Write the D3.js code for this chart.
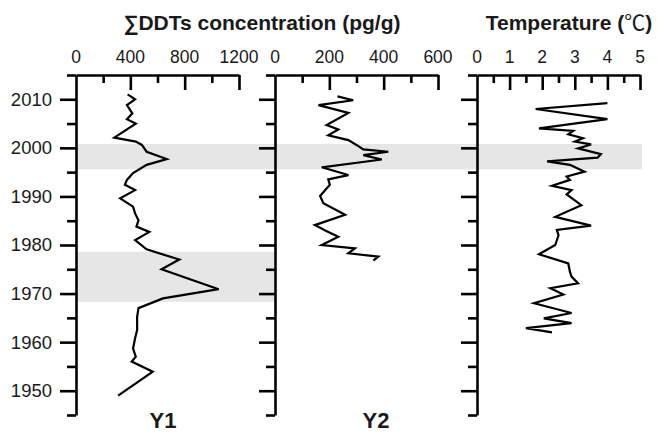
<!DOCTYPE html>
<html>
<head>
<meta charset="utf-8">
<script src="https://cdn.jsdelivr.net/npm/d3@7"></script>
<style>
  body { margin: 0; background: #fff; }
  svg { display: block; font-family: "Liberation Sans", Arial, sans-serif; }
</style>
</head>
<body>
<svg width="657" height="435"></svg>
<script>
// ---- data ----
var ddtYears  = [2011, 2010, 2008.8, 2007.1, 2005.9, 2005.0, 2002.1, 2001.3, 2000.6, 1999.2, 1997.7, 1996.5, 1994.8, 1993.4, 1992.4, 1991.3, 1989.6, 1987.9, 1986.5, 1985.1, 1983.8, 1982.7, 1981, 1979.1, 1977, 1975, 1970.9, 1969, 1967, 1965.2, 1962.5, 1960.8, 1958.7, 1957, 1956, 1953.9, 1949],
    ddtValues = [380, 435, 375, 415, 375, 440, 282, 440, 485, 520, 668, 520, 420, 375, 360, 435, 325, 420, 435, 460, 445, 540, 435, 520, 760, 630, 1050, 640, 460, 450, 450, 435, 420, 440, 410, 565, 310];

var y2Years  = [2010.6, 2009.8, 2008.8, 2007.2, 2004.7, 2003.8, 2002.6, 2001.6, 2000.6, 1999.7, 1999.2, 1998.5, 1997.6, 1996.0, 1994.4, 1993.5, 1992.4, 1990.1, 1988.6, 1986.2, 1984.1, 1983.0, 1981.7, 1980.0, 1979.3, 1978.3, 1977.6, 1976.8],
    y2Values = [230, 288, 160, 270, 190, 233, 196, 270, 300, 325, 417, 325, 393, 172, 270, 196, 202, 166, 178, 258, 147, 185, 233, 172, 294, 270, 380, 362];

var tempYears  = [2009.2, 2008.0, 2005.9, 2004.0, 2003.5, 2002.8, 2002.0, 2001.3, 2000.7, 1999.9, 1998.7, 1998.0, 1997.2, 1996.5, 1995.1, 1994.1, 1993.4, 1992.2, 1991.3, 1990.4, 1988.2, 1985.8, 1984.0, 1983.1, 1982.0, 1980.0, 1978.1, 1976.2, 1974.5, 1973.5, 1972.1, 1971.1, 1969.8, 1968.0, 1966.0, 1964.9, 1963.9, 1962.9, 1962.0],
    tempValues = [4.0, 1.8, 4.0, 1.9, 2.95, 2.8, 3.25, 3.0, 3.5, 3.1, 3.8, 3.7, 2.15, 2.85, 3.3, 2.75, 2.85, 2.3, 2.9, 2.75, 3.2, 2.4, 3.5, 2.45, 2.5, 2.4, 1.9, 2.8, 2.85, 2.9, 3.1, 2.25, 2.65, 1.75, 2.9, 2.05, 2.9, 1.5, 2.3];

// shaded intervals (years)
var bandYears = [[1995.6, 2000.8], [1968.3, 1978.6]];

// ticks
var yearTicks = [1950, 1960, 1970, 1980, 1990, 2000, 2010],
    yearMinor = [1945, 1955, 1965, 1975, 1985, 1995, 2005, 2015],
    ddtTicks  = [0, 400, 800, 1200],
    y2Ticks   = [0, 200, 400, 600],
    tempTicks = [0, 1, 2, 3, 4, 5];

/***********************************************************************************************/

var svg = d3.select("svg"),
    top_y = 75, bottom_y = 415,
    axis_w = 2.6, line_w = 2.2,
    txt_clr = "#1a1a1a";

var yScale = d3.scaleLinear().domain([1945, 2015]).range([bottom_y, top_y]);

var panels = [
  { range: [76, 239],  domain: [0, 1200], ticks: ddtTicks,  years: ddtYears,  values: ddtValues,  labelYears: true,  name: "Y1", nameX: 163 },
  { range: [275, 438], domain: [0, 600],  ticks: y2Ticks,   years: y2Years,   values: y2Values,   labelYears: false, name: "Y2", nameX: 376 },
  { range: [477, 640], domain: [0, 5],    ticks: tempTicks, years: tempYears, values: tempValues, labelYears: false, name: null }
];
panels.forEach(p => { p.x = d3.scaleLinear().domain(p.domain).range(p.range); });

// bands: first spans all panels, second only the first panel (up to next axis)
var bandX = [[76, 642], [76, 274]];
bandYears.forEach((b, i) => {
  svg.append("rect")
    .attr("x", bandX[i][0]).attr("width", bandX[i][1] - bandX[i][0])
    .attr("y", yScale(b[1])).attr("height", yScale(b[0]) - yScale(b[1]))
    .style("fill", "#e6e6e6");
});

function minorOf(t){
  var out = [];
  for(var i = 0; i < t.length - 1; i++){ out.push((t[i] + t[i+1]) / 2); }
  return out;
}

function styleAxis(g){
  g.selectAll("path, line").style("stroke", "#000").style("stroke-width", axis_w);
  g.selectAll("text").style("fill", txt_clr);
}

panels.forEach(p => {
  // top axis, ticks pointing inward
  var gx = svg.append("g").attr("transform", "translate(0," + top_y + ")");
  gx.call(d3.axisTop(p.x).tickValues(p.ticks.slice(1)).tickSize(-15).tickSizeOuter(0).tickFormat(""));
  gx.append("g").call(d3.axisTop(p.x).tickValues(minorOf(p.ticks)).tickSize(-8).tickFormat(""))
    .select(".domain").remove();
  gx.selectAll(".lbl").data(p.ticks).enter().append("text")
    .attr("x", d => p.x(d)).attr("y", -12)
    .attr("text-anchor", "middle")
    .style("font-size", "17.5px").text(d => d);
  styleAxis(gx);

  // left year axis, ticks pointing outward
  var gy = svg.append("g").attr("transform", "translate(" + p.range[0] + ",0)");
  gy.call(d3.axisLeft(yScale).tickValues(yearTicks).tickSize(16).tickSizeOuter(0).tickPadding(8)
    .tickFormat(p.labelYears ? d3.format("d") : ""));
  gy.append("g").call(d3.axisLeft(yScale).tickValues(yearMinor).tickSize(9).tickFormat(""))
    .select(".domain").remove();
  gy.selectAll("text").style("font-size", "18.5px").style("font-family", null);
  styleAxis(gy);

  // profile line
  var line = d3.line().x((d, i) => p.x(p.values[i])).y(d => yScale(d));
  svg.append("path").datum(p.years).attr("d", line)
    .style("fill", "none").style("stroke", "#000").style("stroke-width", line_w);

  if(p.name){
    svg.append("text").attr("x", p.nameX).attr("y", 428)
      .attr("text-anchor", "middle")
      .style("font-size", "22px").style("font-weight", "bold").style("fill", txt_clr)
      .text(p.name);
  }
});

// titles
svg.append("text").attr("x", 262).attr("y", 30).attr("text-anchor", "middle")
  .style("font-size", "21px").style("font-weight", "bold").style("fill", txt_clr)
  .text("∑DDTs concentration (pg/g)");

var t = svg.append("text").attr("x", 569).attr("y", 30).attr("text-anchor", "middle")
  .style("font-size", "21px").style("font-weight", "bold").style("fill", txt_clr);
t.append("tspan").text("Temperature (");
t.append("tspan").style("font-weight", "normal").style("font-family", "'Noto Sans CJK SC', sans-serif").text("℃");
t.append("tspan").text(")");
</script>
</body>
</html>
